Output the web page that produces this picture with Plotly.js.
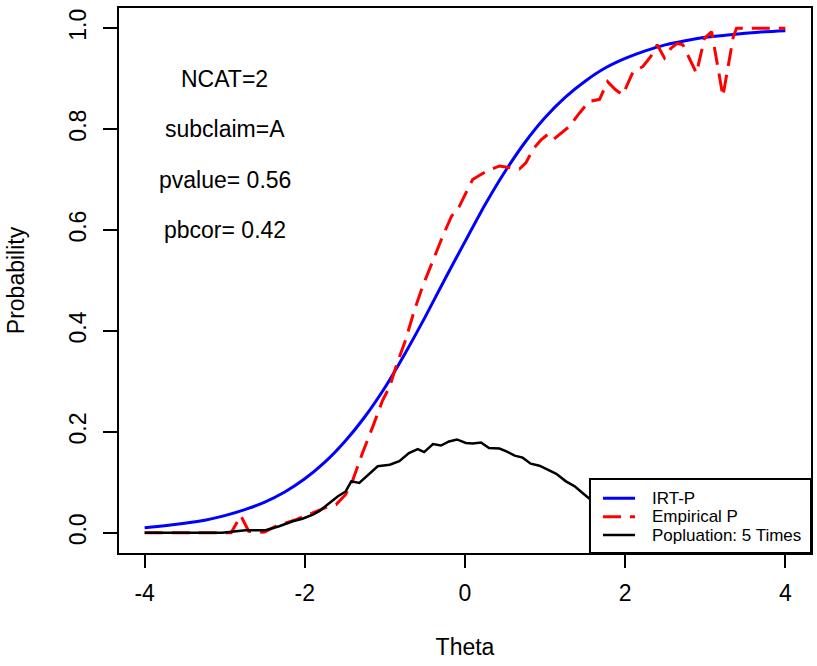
<!DOCTYPE html>
<html>
<head>
<meta charset="utf-8">
<script src="https://cdn.plot.ly/plotly-3.0.1.min.js"></script>
<style>
  html, body { margin: 0; padding: 0; background: #ffffff; }
  #chart { width: 817px; height: 666px; }
</style>
</head>
<body>
<div id="chart"></div>
<script>
// IRT model curve (IRT-P)
const irtTheta = [-4.0, -3.75, -3.5, -3.25, -3.0, -2.75, -2.5, -2.25, -2.0, -1.75, -1.5, -1.25, -1.0, -0.75, -0.5, -0.25,
  0.0, 0.25, 0.5, 0.75, 1.0, 1.25, 1.5, 1.75, 2.0, 2.25, 2.5, 2.75, 3.0, 3.25, 3.5, 3.75, 4.0];
const irtP = [0.010, 0.014, 0.019, 0.025, 0.034, 0.046, 0.061, 0.081, 0.107, 0.140, 0.181, 0.230, 0.288, 0.355, 0.427, 0.503,
  0.577, 0.650, 0.716, 0.774, 0.823, 0.863, 0.895, 0.921, 0.940, 0.955, 0.967, 0.975, 0.982, 0.986, 0.990, 0.993, 0.995];

// Observed proportion correct (Empirical P)
const empTheta = [-4.0, -3.5, -3.0, -2.92, -2.80, -2.70, -2.51, -2.36, -2.11, -1.90, -1.74, -1.61, -1.49, -1.40, -1.28, -1.15,
  -1.03, -0.94, -0.86, -0.74, -0.63, -0.53, -0.40, -0.28, -0.17, -0.07, 0.01, 0.095, 0.26, 0.43, 0.55, 0.68, 0.76, 0.85,
  0.95, 1.03, 1.10, 1.18, 1.30, 1.43, 1.55, 1.68, 1.78, 1.88, 1.97, 2.10, 2.22, 2.32, 2.40, 2.49, 2.57, 2.65, 2.72, 2.89,
  2.99, 3.08, 3.22, 3.35, 3.39, 3.6, 4.0];
const empP = [0.0, 0.0, 0.0, 0.0, 0.034, 0.003, 0.001, 0.013, 0.026, 0.040, 0.050, 0.056, 0.076, 0.105, 0.158, 0.211,
  0.262, 0.290, 0.330, 0.383, 0.442, 0.488, 0.541, 0.587, 0.627, 0.647, 0.673, 0.700, 0.716, 0.727, 0.724, 0.721, 0.733, 0.760,
  0.779, 0.789, 0.779, 0.789, 0.805, 0.832, 0.855, 0.859, 0.894, 0.878, 0.868, 0.914, 0.924, 0.944, 0.967, 0.941, 0.960, 0.970, 0.967, 0.911,
  0.980, 0.993, 0.865, 0.983, 1.0, 1.0, 1.0];

// Population density, scaled 5 times
const popTheta = [-4.0, -3.5, -3.03, -2.74, -2.49, -2.32, -2.15, -2.03, -1.90, -1.82, -1.69, -1.59, -1.49, -1.42, -1.32, -1.21,
  -1.09, -0.94, -0.82, -0.70, -0.59, -0.51, -0.40, -0.30, -0.20, -0.10, 0.01, 0.095, 0.20, 0.30, 0.43, 0.51, 0.62, 0.72,
  0.82, 0.93, 1.05, 1.14, 1.26, 1.37, 1.46, 1.55, 1.75, 2.0, 2.25, 2.5, 2.75, 3.0, 3.5, 4.0];
const popDens = [0.0, 0.0, 0.0, 0.005, 0.005, 0.013, 0.023, 0.028, 0.036, 0.043, 0.059, 0.072, 0.082, 0.102, 0.099, 0.115,
  0.132, 0.135, 0.142, 0.158, 0.166, 0.160, 0.176, 0.173, 0.181, 0.185, 0.178, 0.177, 0.179, 0.168, 0.167, 0.162, 0.153, 0.149,
  0.137, 0.133, 0.124, 0.117, 0.102, 0.092, 0.080, 0.068, 0.050, 0.034, 0.022, 0.014, 0.008, 0.005, 0.002, 0.0];

// Item statistics shown in the upper-left corner
const statLabels = ["NCAT=2", "subclaim=A", "pvalue= 0.56", "pbcor= 0.42"];
const statX = [-3, -3, -3, -3];
const statY = [0.9, 0.8, 0.7, 0.6];

// Legend entries
const legendNames = ["IRT-P", "Empirical P", "Popluation: 5 Times"];
const legendColors = ["#0000ff", "#ff0000", "#000000"];
const legendDash = ["solid", "18px,9px", "solid"];
const legendWidths = [3, 3, 2.5];

const xTicks = [-4, -2, 0, 2, 4];
const yTicks = [0.0, 0.2, 0.4, 0.6, 0.8, 1.0];

const FONT = '"Liberation Sans", Arial, sans-serif';

const traces = [
  {
    x: irtTheta, y: irtP, type: 'scatter', mode: 'lines', name: legendNames[0],
    line: { color: legendColors[0], width: legendWidths[0], shape: 'spline', smoothing: 0.6 }
  },
  {
    x: empTheta, y: empP, type: 'scatter', mode: 'lines', name: legendNames[1],
    line: { color: legendColors[1], width: legendWidths[1], dash: legendDash[1] }
  },
  {
    x: popTheta, y: popDens, type: 'scatter', mode: 'lines', name: legendNames[2],
    line: { color: legendColors[2], width: legendWidths[2] }
  }
];

const annotations = statLabels.map((t, i) => ({
  x: statX[i], y: statY[i], xref: 'x', yref: 'y', text: t, showarrow: false,
  font: { family: FONT, size: 23, color: '#000000' }, xanchor: 'center', yanchor: 'middle'
}));

// Legend box in the bottom-right corner of the plotting region (axis-domain units)
const LEG = { x0: 0.6806, x1: 1.0, y0: 0.0, y1: 0.1358, lineX0: 0.6994, lineX1: 0.7457, textX: 0.7673,
  rows: [0.1004, 0.0666, 0.0330] };

const shapes = [{
  type: 'rect', xref: 'x domain', yref: 'y domain',
  x0: LEG.x0, x1: LEG.x1, y0: LEG.y0, y1: LEG.y1,
  fillcolor: '#ffffff', line: { color: '#000000', width: 2 }, layer: 'above'
}];
legendNames.forEach((name, i) => {
  shapes.push({
    type: 'line', xref: 'x domain', yref: 'y domain',
    x0: LEG.lineX0, x1: LEG.lineX1, y0: LEG.rows[i], y1: LEG.rows[i],
    line: { color: legendColors[i], width: legendWidths[i], dash: legendDash[i] }, layer: 'above'
  });
  annotations.push({
    xref: 'x domain', yref: 'y domain', x: LEG.textX, y: LEG.rows[i], text: name,
    showarrow: false, xanchor: 'left', yanchor: 'middle',
    font: { family: FONT, size: 17, color: '#000000' }
  });
});

const layout = {
  width: 817, height: 666,
  margin: { l: 119, r: 6, t: 8, b: 113 },
  paper_bgcolor: '#ffffff', plot_bgcolor: '#ffffff',
  font: { family: FONT, size: 23, color: '#000000' },
  showlegend: false,
  xaxis: {
    range: [-4.32, 4.32], tickmode: 'array', tickvals: xTicks, ticktext: xTicks.map(String),
    ticks: 'outside', ticklen: 13, tickwidth: 2, tickcolor: '#000000', ticklabelstandoff: 5,
    showline: true, linewidth: 2, linecolor: '#000000', mirror: true,
    showgrid: false, zeroline: false, automargin: false,
    tickfont: { family: FONT, size: 23 },
    title: { text: 'Theta', font: { family: FONT, size: 23 }, standoff: 34 }
  },
  yaxis: {
    range: [-0.04, 1.04], tickmode: 'array', tickvals: yTicks, ticktext: yTicks.map(v => v.toFixed(1)),
    ticks: 'outside', ticklen: 14, tickwidth: 2, tickcolor: '#000000', tickangle: -90, ticklabelstandoff: 8,
    showline: true, linewidth: 2, linecolor: '#000000', mirror: true,
    showgrid: false, zeroline: false, automargin: false,
    tickfont: { family: FONT, size: 23 },
    title: { text: 'Probability', font: { family: FONT, size: 23 }, standoff: 34 }
  },
  shapes: shapes,
  annotations: annotations
};

Plotly.newPlot('chart', traces, layout, { displayModeBar: false, staticPlot: true });
</script>
</body>
</html>
